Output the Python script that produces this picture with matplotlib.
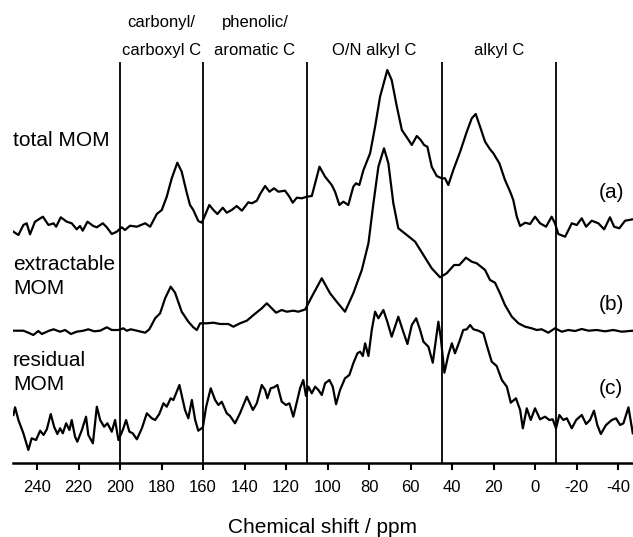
import numpy as np
import matplotlib
matplotlib.use("Agg")
from matplotlib import pyplot as plt

plt.rcParams["font.family"] = ["Liberation Sans", "DejaVu Sans"]

# spectra: chemical shift (ppm) and intensity relative to baseline
total_ppm = [251.4, 249.0, 246.6, 245.0, 243.4, 241.0, 237.2, 234.5, 232.1, 230.8, 228.6, 225.7,
             223.3, 220.9, 219.3, 218.0, 215.7, 212.9, 211.2, 208.3, 206.4, 204.0, 201.6, 199.2,
             197.6, 195.2, 191.9, 187.9, 185.5, 182.3, 179.9, 177.5, 175.1, 172.4, 170.3, 167.8,
             166.3, 164.7, 162.3, 160.6, 159.0, 157.0, 155.0, 153.1, 150.5, 148.6, 146.2, 143.8,
             141.3, 138.2, 136.5, 134.1, 132.5, 130.1, 128.0, 125.8, 123.7, 120.5, 118.4, 116.8,
             114.8, 112.4, 110.0, 107.6, 106.0, 103.9, 101.2, 98.0, 96.4, 94.3, 92.4, 90.0,
             87.6, 86.3, 84.7, 82.7, 79.5, 77.1, 74.7, 71.2, 69.1, 66.6, 64.2, 61.5,
             59.4, 57.0, 55.1, 53.5, 51.9, 49.8, 47.4, 45.0, 43.4, 41.8, 39.4, 36.1,
             32.9, 30.5, 28.6, 26.5, 24.1, 21.7, 20.1, 17.2, 14.5, 12.0, 10.5, 8.8,
             7.2, 4.8, 2.4, 0.0, -2.4, -5.3, -8.0, -9.6, -11.2, -14.5, -17.7, -20.1,
             -22.5, -24.6, -27.3, -30.5, -33.3, -36.1, -38.1, -40.6, -43.4, -47.1]
total_int = [-5.7, -9, 1, 2.7, -8.3, 4.3, 9.3, 1, 2.7, -0.7, 8.7, 4.3,
             2.7, -3.3, 0, -4.7, 4.3, 0, -1.3, 2.7, -1.3, -8, -5.7, -1.3,
             -4, 0.3, -0.7, 2.7, -0.7, 12, 16, 29.3, 47.7, 63.3, 54.3, 32.7,
             21, 16, 5, 3.3, 11, 21, 16, 12, 18.3, 13.3, 16, 20,
             15.3, 23.7, 22.7, 25.3, 32, 40, 34.3, 37.7, 34.3, 35.3, 29.3, 23.3,
             28.3, 27.7, 29.3, 30, 42.7, 59.3, 49.3, 41, 34.3, 21, 24.3, 21,
             39.3, 42.7, 41, 56, 72.7, 99.3, 129.3, 156, 146, 119.3, 96, 87.7,
             81, 90, 86, 81, 79.3, 59.3, 50, 47.7, 47.7, 41, 56, 74.3,
             94.3, 107.7, 112, 99.3, 84.3, 76.7, 72.7, 62.7, 46, 34.3, 26, 9.3,
             0, 3.3, 2, 9.3, 2.7, -0.7, 9.3, 2.7, -8, -10.7, 2.7, 1,
             7.7, -0.7, 5.3, 2.7, -3.3, 8.7, -0.7, -2.3, 5.3, 6.7]

extract_ppm = [251.4, 246.6, 244.2, 241.8, 239.4, 237.7, 234.5, 232.1, 228.9, 226.5, 223.7, 220.9,
               217.7, 215.3, 212.5, 209.6, 206.4, 204.0, 200.8, 198.4, 196.8, 194.8, 191.9, 187.9,
               185.9, 183.1, 180.7, 178.3, 175.6, 173.5, 170.3, 167.1, 164.7, 163.0, 161.4, 158.2,
               155.0, 151.8, 147.8, 145.4, 142.2, 138.9, 135.7, 131.7, 129.3, 126.9, 124.8, 122.1,
               119.7, 116.5, 114.1, 110.8, 107.6, 102.8, 98.8, 95.6, 91.6, 87.6, 83.5, 80.3,
               77.9, 75.5, 72.8, 70.7, 68.3, 65.9, 61.8, 57.8, 53.8, 49.8, 45.8, 42.6,
               39.0, 36.5, 33.3, 30.5, 28.1, 25.7, 24.1, 21.7, 19.3, 16.9, 14.5, 11.2,
               8.0, 4.8, 1.6, -0.8, -3.2, -6.4, -9.6, -12.9, -16.0, -19.3, -22.5, -25.7,
               -29.7, -33.7, -37.7, -41.8, -47.1]
extract_int = [-0.7, -0.7, -2.7, -5, -1, -4, -1, 0.7, -1.7, 0, -4, -1.7,
               -0.7, 0.7, -1.3, -0.7, 2.7, 0, 0, 1.7, -0.7, 0.7, -0.7, -2.7,
               0.7, 11.7, 16.7, 31.7, 43.3, 37.3, 18.3, 8.3, 2.7, 0, 6.7, 6.7,
               7.3, 6, 6, 3.3, 6.7, 9.3, 15, 21.7, 26.7, 21.7, 17.3, 20,
               18.3, 19.3, 18.3, 20.5, 33.3, 51.7, 36.7, 28.3, 18.3, 36.7, 60, 86.7,
               126.7, 163.3, 181.7, 166.7, 126.7, 101.7, 95, 88.3, 75, 61.7, 52.7, 56.7,
               65, 65, 72.3, 68.3, 66.7, 62.7, 60, 50, 47.3, 36.7, 25, 13.3,
               6.7, 3.3, 1.7, 0, 0.7, -2.7, 1.7, -1.7, 0, -1, 1, -0.7,
               0, -1.3, 0, -1.7, -0.7]

resid_ppm = [251.4, 250.6, 249.0, 246.6, 244.2, 242.6, 240.5, 238.5, 236.9, 235.3, 233.4, 231.8,
             230.2, 228.9, 227.6, 226.0, 224.4, 223.3, 221.7, 220.6, 218.4, 216.4, 215.3, 213.1,
             211.2, 209.6, 207.7, 206.1, 204.0, 202.4, 200.8, 198.7, 197.1, 195.5, 193.9, 191.9,
             189.5, 187.1, 184.7, 183.1, 181.1, 179.1, 177.5, 175.6, 174.3, 173.0, 171.4, 169.8,
             168.7, 167.1, 165.4, 163.8, 162.3, 160.1, 158.5, 156.3, 154.2, 152.6, 151.0, 148.6,
             147.0, 144.6, 142.2, 138.9, 136.0, 134.1, 131.7, 130.1, 129.0, 127.4, 125.8, 124.2,
             122.1, 120.0, 118.4, 116.5, 114.8, 113.2, 111.7, 110.4, 109.2, 107.6, 106.0, 104.4,
             102.8, 101.2, 99.1, 97.5, 95.9, 94.0, 91.6, 89.5, 87.6, 85.6, 84.3, 83.0,
             81.9, 80.3, 78.7, 77.1, 75.5, 73.1, 71.2, 69.1, 67.5, 65.9, 63.8, 61.5,
             59.4, 57.3, 55.4, 53.8, 51.4, 49.3, 47.7, 46.6, 45.4, 43.7, 41.8, 40.1,
             38.6, 36.5, 34.6, 32.9, 31.3, 29.7, 27.3, 24.9, 23.3, 20.9, 18.5, 16.0,
             13.6, 11.7, 9.2, 7.2, 5.9, 4.0, 2.1, 0.0, -2.4, -4.8, -6.9, -8.5,
             -10.1, -11.7, -13.6, -15.3, -17.7, -19.8, -22.5, -24.6, -26.5, -28.4, -30.0, -31.7,
             -34.2, -37.0, -39.0, -41.0, -42.6, -45.0, -47.1]
resid_int = [10, 17.7, 5, -8.3, -25, -13.3, -15, -5.7, -10, -4.3, 11, -1.7,
             -9, -3.3, -8.3, 1.7, -5, 5, -11.7, -16.7, -5, 8.3, -10, -18.3,
             18.3, 5, -1.7, 1.7, -6.7, 5, -15, -5, 5, -6.7, -8.3, -14.3,
             -3.3, 11.7, 6.7, 5, 11, 21.7, 18.3, 26.7, 25, 31.7, 40, 25,
             15, 6.7, 25, 5, -5.7, -2.3, 18.3, 36.7, 25, 20, 23.3, 11.7,
             9, 1.7, 11.7, 28.3, 15, 21.7, 40, 35, 26.7, 36.7, 37.7, 40,
             23.3, 20, 21.7, 8.3, 23.3, 37, 45, 29, 38.3, 31.7, 38.3, 35,
             30, 41.7, 45, 38.3, 20.7, 35, 46.7, 50, 61.7, 71.7, 73.3, 69,
             81.7, 69, 95, 113.3, 106.7, 115, 103.3, 88.3, 98.3, 108.3, 95, 81,
             100, 106.7, 95, 83.3, 78.3, 62.3, 86.7, 103.3, 86.7, 52.3, 70, 81.7,
             71.7, 83.3, 95, 95.7, 100, 95.7, 94.3, 91.7, 80, 63.3, 59, 45,
             38.3, 22.3, 26.7, 15, -3.3, 16.7, 5, 16.7, 5.7, 8.3, 5, 5.7,
             -3.3, 10, 5, 6.7, -3.3, 5, 10, 1, 5, 14.3, 0, -9,
             0, 5, 6.7, 0, 1.7, 17.7, -8.3]

region_edges = [200, 160, 110, 45, -10]
region_top = ["carbonyl/", "phenolic/", "", ""]
region_bottom = ["carboxyl C", "aromatic C", "O/N alkyl C", "alkyl C"]
xticks = [240, 220, 200, 180, 160, 140, 120, 100, 80, 60, 40, 20, 0, -20, -40]

fig = plt.figure(figsize=(6.33, 5.37), dpi=100)
ax = fig.add_axes([13 / 633, 74 / 537, 620 / 633, 401 / 537])

# stacked traces, offsets in axis units (pixels above the axis line)
for ppm, inten, base in [(total_ppm, total_int, 237),
                         (extract_ppm, extract_int, 133),
                         (resid_ppm, resid_int, 38)]:
    ax.plot(ppm, np.array(inten) + base, color="black", lw=1.6, solid_joinstyle="round")

for e in region_edges:
    ax.axvline(e, color="black", lw=1.3)

ax.set_xlim(251.6, -47.2)
ax.set_ylim(0, 401)
ax.set_yticks([])
for s in ["left", "right", "top"]:
    ax.spines[s].set_visible(False)
ax.spines["bottom"].set_linewidth(1.8)
ax.set_xticks(xticks)
ax.set_xticklabels([str(t) for t in xticks])
ax.tick_params(axis="x", direction="out", length=5, width=1.5, labelsize=12, pad=7)
ax.set_xlabel("Chemical shift / ppm", fontsize=15, labelpad=17)

# region labels above the plot
for i in range(4):
    mid = (region_edges[i] + region_edges[i + 1]) / 2
    if region_top[i]:
        ax.text(mid, (463 - 23) / 401, region_top[i], ha="center", va="center", fontsize=12,
                transform=ax.get_xaxis_transform(), clip_on=False)
    ax.text(mid, (463 - 50) / 401, region_bottom[i], ha="center", va="center", fontsize=12,
            transform=ax.get_xaxis_transform(), clip_on=False)

# sample names and panel letters
ax.text(0, (463 - 140) / 401, "total MOM", ha="left", va="center", fontsize=15, transform=ax.transAxes)
ax.text(0, (463 - 265) / 401, "extractable", ha="left", va="center", fontsize=15, transform=ax.transAxes)
ax.text(0, (463 - 289) / 401, "MOM", ha="left", va="center", fontsize=15, transform=ax.transAxes)
ax.text(0, (463 - 361) / 401, "residual", ha="left", va="center", fontsize=15, transform=ax.transAxes)
ax.text(0, (463 - 385) / 401, "MOM", ha="left", va="center", fontsize=15, transform=ax.transAxes)
for lab, y in [("(a)", 193), ("(b)", 305), ("(c)", 389)]:
    ax.text((611 - 13) / 620, (463 - y) / 401, lab, ha="center", va="center", fontsize=15,
            transform=ax.transAxes)

plt.savefig("out.png", dpi=100)
